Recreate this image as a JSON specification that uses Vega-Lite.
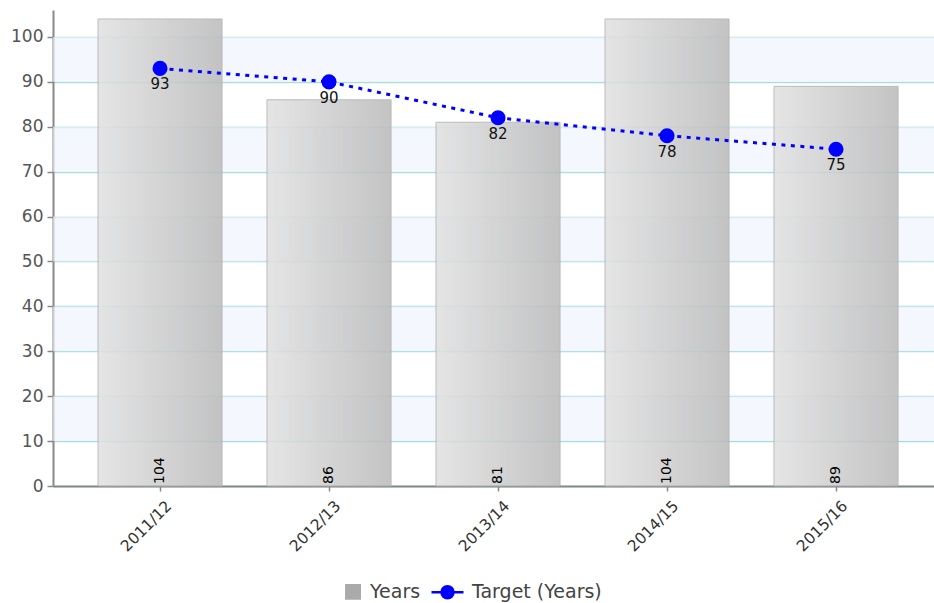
{
  "$schema": "https://vega.github.io/schema/vega-lite/v6.json",
  "width": 881,
  "height": 476,
  "autosize": {"type": "none"},
  "padding": {"left": 53, "top": 10, "right": 0, "bottom": 117},
  "background": "white",
  "config": {"view": {"stroke": null}, "font": "DejaVu Sans"},
  "datasets": {
    "main": [
      {"year": "2011/12", "years": 104, "target": 93},
      {"year": "2012/13", "years": 86, "target": 90},
      {"year": "2013/14", "years": 81, "target": 82},
      {"year": "2014/15", "years": 104, "target": 78},
      {"year": "2015/16", "years": 89, "target": 75}
    ],
    "bands": [
      {"lo": 10, "hi": 20},
      {"lo": 30, "hi": 40},
      {"lo": 50, "hi": 60},
      {"lo": 70, "hi": 80},
      {"lo": 90, "hi": 100}
    ],
    "legend": [
      {"series": "Years"},
      {"series": "Target (Years)"}
    ]
  },
  "layer": [
    {
      "data": {"name": "bands"},
      "mark": {"type": "rect", "color": "#f0f3fe", "opacity": 0.65},
      "encoding": {
        "y": {"field": "lo", "type": "quantitative", "scale": {"domain": [0, 106], "nice": false, "zero": true},
          "axis": {"values": [0, 10, 20, 30, 40, 50, 60, 70, 80, 90, 100], "grid": true, "gridColor": "#a9dde0", "gridWidth": 1.5,
            "domainColor": "#888888", "domainWidth": 2, "tickColor": "#888888", "tickSize": 6, "tickWidth": 1.5,
            "labelFontSize": 17, "labelColor": "#555555", "labelPadding": 4, "title": null}},
        "y2": {"field": "hi"}
      }
    },
    {
      "data": {"name": "main"},
      "mark": {
        "type": "bar",
        "fill": {"gradient": "linear", "x1": 0, "y1": 0, "x2": 1, "y2": 0,
          "stops": [{"offset": 0, "color": "#e1e1e1"}, {"offset": 1, "color": "#bababa"}]},
        "stroke": "#b0b0b0",
        "strokeWidth": 1,
        "opacity": 0.85
      },
      "encoding": {
        "x": {"field": "year", "type": "nominal", "sort": null,
          "scale": {"paddingInner": 0.266, "paddingOuter": 0.2395, "align": 0.556},
          "axis": {"title": null, "labelAngle": -45, "labelAlign": "right", "labelBaseline": "middle",
            "labelFontSize": 15.5, "labelColor": "#333333", "labelPadding": 12, "labelOffset": 9,
            "tickSize": 5, "tickColor": "#888888", "tickWidth": 1.5,
            "domainColor": "#888888", "domainWidth": 2, "grid": false}},
        "y": {"field": "years", "type": "quantitative"}
      }
    },
    {
      "data": {"name": "main"},
      "mark": {"type": "text", "angle": 270, "align": "left", "baseline": "middle", "dx": 2, "fontSize": 14, "color": "#000000"},
      "encoding": {
        "x": {"field": "year", "type": "nominal", "sort": null},
        "y": {"datum": 0, "type": "quantitative"},
        "text": {"field": "years"}
      }
    },
    {
      "data": {"name": "main"},
      "mark": {"type": "line", "color": "#0000ff", "strokeWidth": 3, "strokeDash": [4, 5.5]},
      "encoding": {
        "x": {"field": "year", "type": "nominal", "sort": null},
        "y": {"field": "target", "type": "quantitative"}
      }
    },
    {
      "data": {"name": "main"},
      "mark": {"type": "circle", "size": 227, "color": "#0000ff", "opacity": 1},
      "encoding": {
        "x": {"field": "year", "type": "nominal", "sort": null},
        "y": {"field": "target", "type": "quantitative"}
      }
    },
    {
      "data": {"name": "main"},
      "mark": {"type": "text", "dy": 16, "fontSize": 15, "color": "#111111"},
      "encoding": {
        "x": {"field": "year", "type": "nominal", "sort": null},
        "y": {"field": "target", "type": "quantitative"},
        "text": {"field": "target"}
      }
    },
    {
      "data": {"name": "legend"},
      "mark": {"type": "point", "filled": true, "clip": true, "strokeWidth": 2.5, "opacity": 1},
      "encoding": {
        "y": {"datum": -50, "type": "quantitative"},
        "shape": {"field": "series", "type": "nominal",
          "scale": {"domain": ["Years", "Target (Years)"],
            "range": ["M0.05,-0.42H0.89V0.42H0.05Z", "M-1,0H1M0.375,0A0.375,0.375 0 1,1 -0.375,0A0.375,0.375 0 1,1 0.375,0Z"]},
          "legend": {"orient": "none", "legendX": 275, "legendY": 564, "direction": "horizontal", "title": null,
            "symbolSize": 1024, "symbolStrokeWidth": 2.5, "labelFontSize": 19, "labelColor": "#444444",
            "labelOffset": 7, "columnPadding": 5, "padding": 0, "symbolOpacity": 1}},
        "fill": {"field": "series", "type": "nominal",
          "scale": {"domain": ["Years", "Target (Years)"], "range": ["#aaaaaa", "#0000ff"]}},
        "stroke": {"field": "series", "type": "nominal",
          "scale": {"domain": ["Years", "Target (Years)"], "range": ["#aaaaaa", "#0000ff"]}}
      }
    }
  ]
}
